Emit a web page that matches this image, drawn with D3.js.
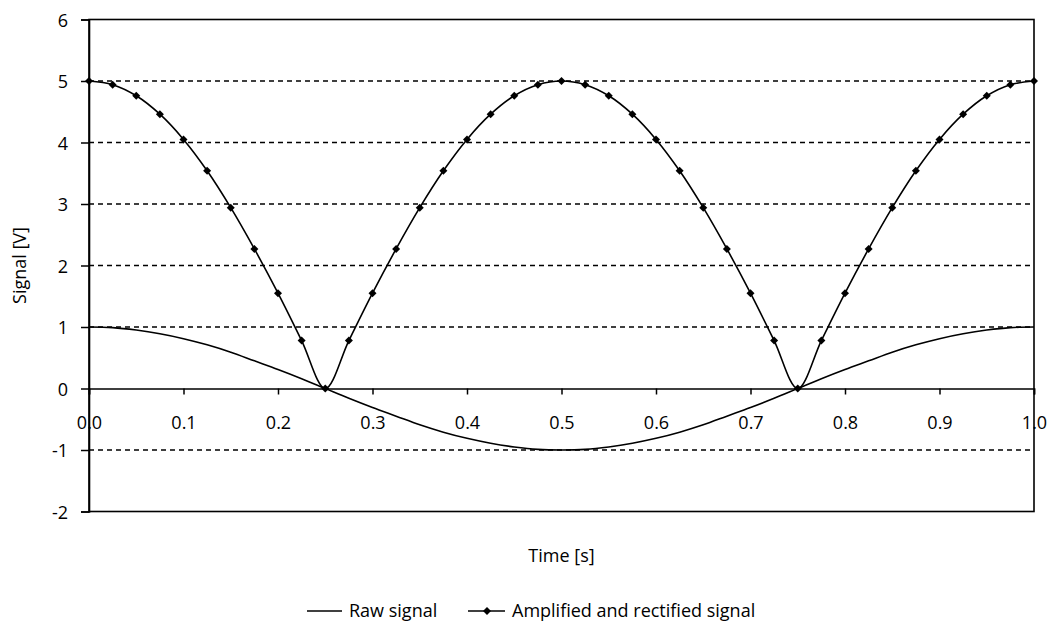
<!DOCTYPE html>
<html><head><meta charset="utf-8">
<script src="https://cdn.jsdelivr.net/npm/d3@7"></script>
<style>body{margin:0;background:#fff}svg{display:block}text{font-family:"Open Sans","Lato",sans-serif;fill:#000}</style>
</head><body><svg id="c" width="1055" height="629"></svg>
<script>
const time = [0,0.025,0.05,0.075,0.1,0.125,0.15,0.175,0.2,0.225,0.25,0.275,0.3,0.325,0.35,0.375,0.4,0.425,0.45,0.475,0.5,0.525,0.55,0.575,0.6,0.625,0.65,0.675,0.7,0.725,0.75,0.775,0.8,0.825,0.85,0.875,0.9,0.925,0.95,0.975,1.0];
const rawSignal = [1,0.99,0.95,0.89,0.81,0.71,0.59,0.45,0.31,0.16,0,-0.16,-0.31,-0.45,-0.59,-0.71,-0.81,-0.89,-0.95,-0.99,-1,-0.99,-0.95,-0.89,-0.81,-0.71,-0.59,-0.45,-0.31,-0.16,0,0.16,0.31,0.45,0.59,0.71,0.81,0.89,0.95,0.99,1];
const amplified = [5,4.94,4.76,4.46,4.05,3.54,2.94,2.27,1.55,0.78,0,0.78,1.55,2.27,2.94,3.54,4.05,4.46,4.76,4.94,5,4.94,4.76,4.46,4.05,3.54,2.94,2.27,1.55,0.78,0,0.78,1.55,2.27,2.94,3.54,4.05,4.46,4.76,4.94,5];
const xTicks = [0,0.1,0.2,0.3,0.4,0.5,0.6,0.7,0.8,0.9,1.0];
const yTicks = [-2,-1,0,1,2,3,4,5,6];
const gridValues = [-1,1,2,3,4,5];
const seriesNames = ["Raw signal","Amplified and rectified signal"];

const svg = d3.select("#c");
const L=89, R=1034, T=19.5, B=511.5;
const x = d3.scaleLinear().domain([0,1]).range([L,R]);
const y = d3.scaleLinear().domain([-2,6]).range([B,T]);
const FS = 18;

// grid
svg.append("g").selectAll("line").data(gridValues).join("line")
  .attr("x1",L).attr("x2",R).attr("y1",d=>y(d)).attr("y2",d=>y(d))
  .attr("stroke","#000").attr("stroke-width",1.3).attr("stroke-dasharray","5,4");

// frame
svg.append("rect").attr("x",L).attr("y",T).attr("width",R-L).attr("height",B-T)
  .attr("fill","none").attr("stroke","#000").attr("stroke-width",1.6);

// y axis
const yAxis = svg.append("g").attr("transform",`translate(${L},0)`)
  .call(d3.axisLeft(y).tickValues(yTicks).tickSize(8).tickPadding(13).tickFormat(d=>String(d)));
yAxis.select(".domain").attr("stroke-width",1.6);
yAxis.selectAll(".tick line").attr("stroke-width",1.5);
yAxis.selectAll("text").style("font-size",FS+"px").attr("dy","0.38em");

// x axis at zero
const xAxis = svg.append("g").attr("transform",`translate(0,${y(0)})`)
  .call(d3.axisBottom(x).tickValues(xTicks).tickSize(6).tickPadding(22).tickFormat(d3.format(".1f")));
xAxis.select(".domain").attr("stroke-width",1.6);
xAxis.selectAll(".tick line").attr("stroke-width",1.5);
xAxis.selectAll("text").style("font-size",FS+"px");

// lines
const line = (vals)=>d3.line().x((d,i)=>x(time[i])).y(d=>y(d)).curve(d3.curveCatmullRom.alpha(0.5))(vals);
svg.append("path").attr("d",line(rawSignal)).attr("fill","none").attr("stroke","#000").attr("stroke-width",1.6);
svg.append("path").attr("d",line(amplified)).attr("fill","none").attr("stroke","#000").attr("stroke-width",1.6);
const marker = d3.symbol().type(d3.symbolSquare).size(32);
svg.append("g").selectAll("path").data(amplified).join("path")
  .attr("transform",(d,i)=>`translate(${x(time[i])},${y(d)}) rotate(45)`).attr("d",marker()).attr("fill","#000");

// titles
svg.append("text").attr("x",(L+R)/2).attr("y",556).attr("text-anchor","middle").attr("dy","0.35em")
  .style("font-size",FS+"px").text("Time [s]");
svg.append("text").attr("transform",`translate(20,${(T+B)/2}) rotate(-90)`).attr("text-anchor","middle").attr("dy","0.35em")
  .style("font-size",FS+"px").text("Signal [V]");

// legend
const ly = 611;
const lg = svg.append("g");
lg.append("line").attr("x1",307).attr("x2",342).attr("y1",ly).attr("y2",ly).attr("stroke","#000").attr("stroke-width",1.6);
lg.append("text").attr("x",349).attr("y",ly).attr("dy","0.35em").style("font-size",FS+"px").text(seriesNames[0]);
lg.append("line").attr("x1",468).attr("x2",505).attr("y1",ly).attr("y2",ly).attr("stroke","#000").attr("stroke-width",1.6);
lg.append("path").attr("transform",`translate(487,${ly}) rotate(45)`).attr("d",marker()).attr("fill","#000");
lg.append("text").attr("x",512).attr("y",ly).attr("dy","0.35em").style("font-size",FS+"px").text(seriesNames[1]);
</script></body></html>
